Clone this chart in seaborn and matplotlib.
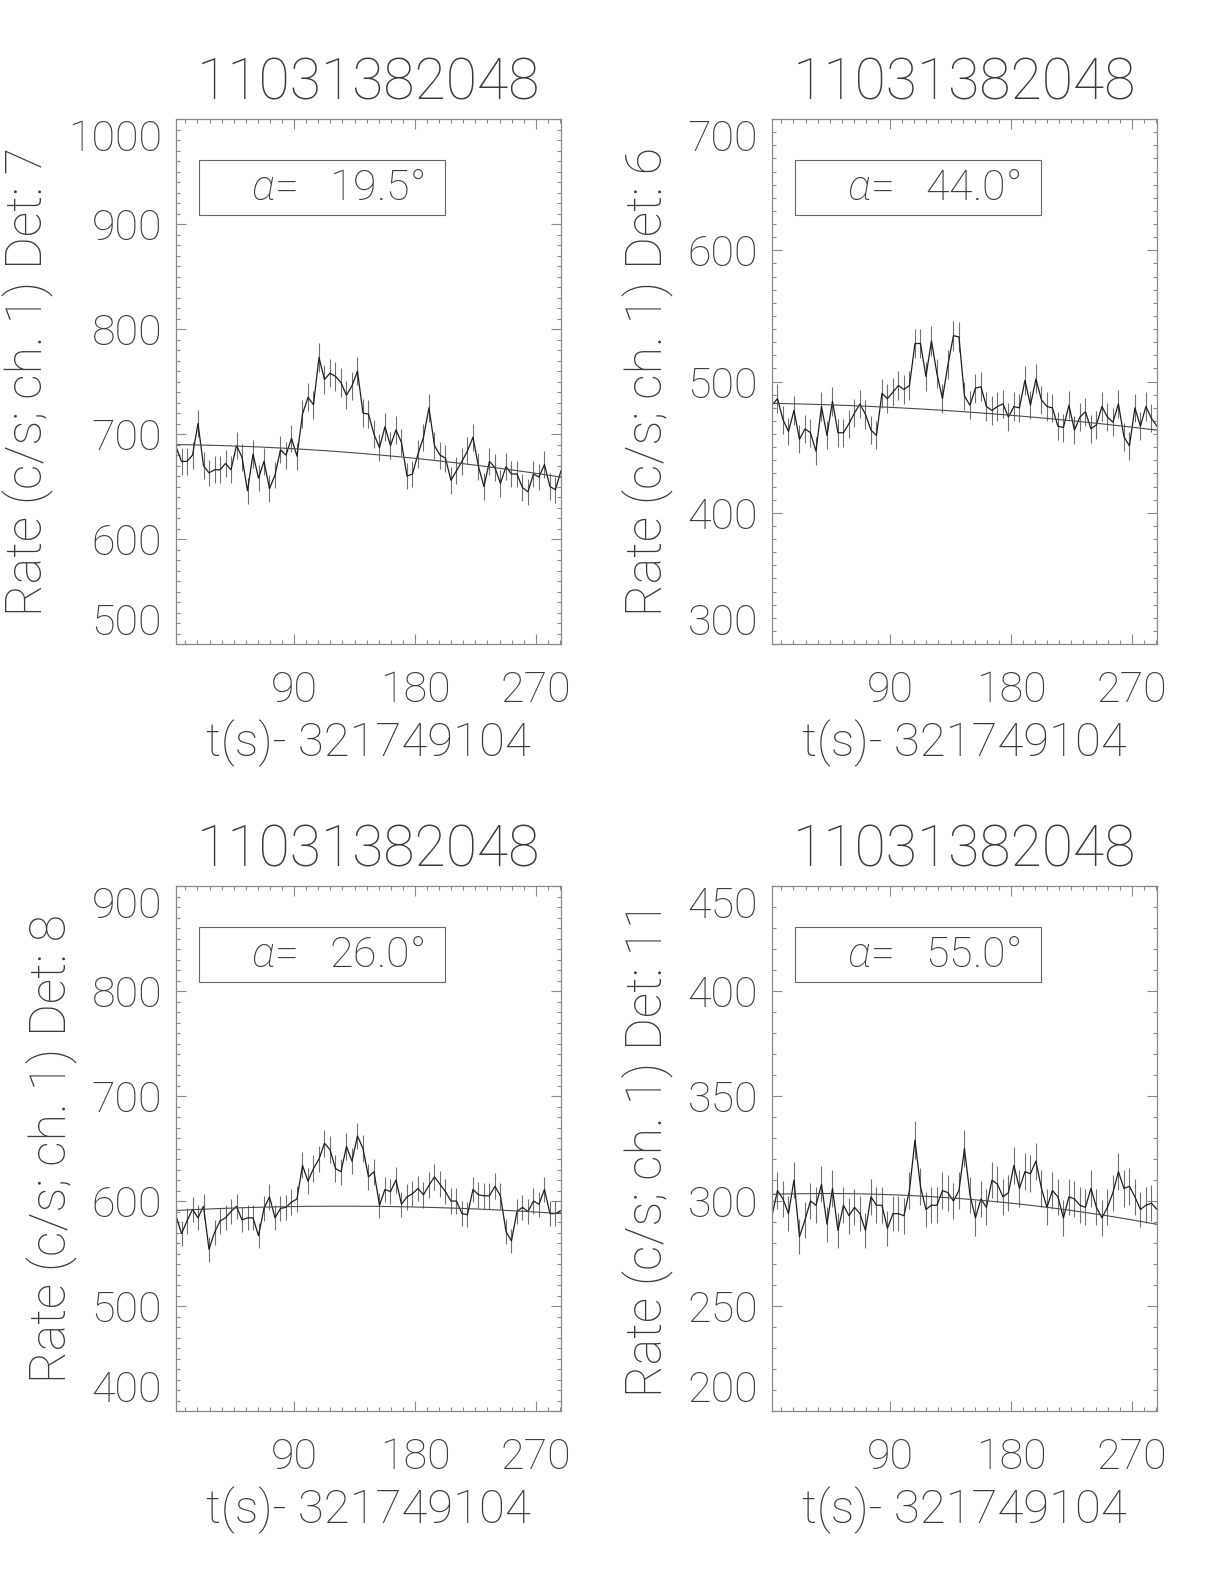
import numpy as np
import pandas as pd
import seaborn as sns
import matplotlib
matplotlib.use('Agg')
import matplotlib.pyplot as plt
from matplotlib.ticker import MultipleLocator
from matplotlib.patches import Rectangle

# time bins (s after 321749104)
T0 = 2.0
DT = 4.096
NBIN = 71

burst = '11031382048'
xtitle = 't(s)- 321749104'

# count rates
rate_det7 = [688, 674, 674, 680, 710, 670, 663, 666, 666, 672,
             666, 689, 678, 646, 681, 658, 674, 648, 661, 685,
             680, 696, 679, 719, 735, 728, 773, 752, 758, 755,
             749, 737, 746, 760, 720, 719, 700, 687, 707, 689,
             704, 692, 660, 662, 681, 697, 725, 689, 680, 677,
             656, 665, 674, 684, 697, 669, 650, 674, 668, 653,
             669, 662, 662, 649, 645, 662, 659, 671, 650, 647,
             665]
rate_det6 = [482, 487, 471, 462, 478, 456, 464, 461, 447, 481,
             459, 485, 461, 461, 468, 476, 483, 475, 463, 459,
             491, 487, 492, 497, 494, 497, 529, 529, 504, 531,
             506, 487, 513, 535, 534, 489, 482, 495, 496, 481,
             478, 481, 483, 473, 481, 480, 501, 482, 502, 486,
             481, 480, 466, 465, 482, 463, 473, 477, 464, 467,
             481, 473, 469, 483, 458, 451, 480, 466, 481, 472,
             466]
rate_det8 = [586, 569, 581, 592, 584, 595, 554, 570, 581, 584,
             590, 595, 582, 584, 584, 567, 593, 604, 584, 593,
             594, 599, 602, 634, 619, 631, 640, 655, 649, 631,
             628, 652, 638, 662, 650, 623, 628, 596, 611, 609,
             620, 597, 604, 607, 612, 606, 615, 623, 616, 609,
             600, 600, 588, 587, 611, 606, 605, 605, 614, 605,
             571, 562, 590, 594, 590, 600, 597, 611, 588, 588,
             591]
rate_det11 = [293, 305, 301, 294, 310, 283, 291, 300, 298, 308,
              289, 306, 286, 298, 293, 297, 294, 286, 302, 298,
              298, 287, 294, 294, 293, 305, 329, 307, 296, 298,
              298, 305, 304, 300, 305, 325, 303, 292, 301, 297,
              310, 308, 302, 304, 317, 306, 314, 313, 319, 306,
              297, 305, 302, 292, 302, 301, 298, 297, 306, 297,
              292, 297, 304, 314, 306, 307, 302, 296, 298, 299,
              296]

# quadratic background fit, coefficients in normalised time (-1..1)
bg_det7 = [681, -15.5, -6.5]
bg_det6 = [477, -10.2, -3.8]
bg_det8 = [595, -1.5, -5.5]
bg_det11 = [301, -7.15, -4.95]

detectors = [7, 6, 8, 11]
alphas = [19.5, 44.0, 26.0, 55.0]
ylims = [(500, 1000), (300, 700), (400, 900), (200, 450)]
ysteps = [100, 100, 100, 50]
rates = [rate_det7, rate_det6, rate_det8, rate_det11]
bgs = [bg_det7, bg_det6, bg_det8, bg_det11]

sns.set_theme(style='ticks')
plt.rcParams['font.family'] = ['Roboto', 'DejaVu Sans']
plt.rcParams['font.weight'] = 'light'
plt.rcParams['axes.titleweight'] = 'light'
plt.rcParams['axes.labelweight'] = 'light'
plt.rcParams['mathtext.fontset'] = 'custom'
plt.rcParams['mathtext.rm'] = 'Roboto:light'
plt.rcParams['mathtext.it'] = 'Roboto:italic:light'

txt = '#3a3a3a'
axcol = '#8a8a8a'

fig = plt.figure(figsize=(12.24, 15.84), dpi=100)
lefts = [0.1438, 0.6307, 0.1438, 0.6307]
bottoms = [0.5934, 0.5934, 0.1092, 0.1092]
W, H = 0.3145, 0.3314

t = T0 + DT * np.arange(NBIN)
s = (t - t.mean()) / (t[-1] - t.mean())

for i in range(4):
    ax = fig.add_axes([lefts[i], bottoms[i], W, H])
    r = np.array(rates[i], dtype=float)
    c = bgs[i]
    df = pd.DataFrame({'t': t, 'rate': r,
                       'err': np.sqrt(r / DT),
                       'bg': c[0] + c[1] * s + c[2] * s ** 2})

    ax.vlines(df['t'], df['rate'] - df['err'], df['rate'] + df['err'],
              color='#707070', lw=0.8)
    sns.lineplot(data=df, x='t', y='rate', ax=ax, color='#1e1e1e', lw=0.9,
                 estimator=None, sort=False)
    sns.lineplot(data=df, x='t', y='bg', ax=ax, color='#4a4a4a', lw=0.8,
                 estimator=None, sort=False)

    ax.set_xlim(t[0], t[-1])
    lo, hi = ylims[i]
    ax.set_ylim(lo, hi)
    ax.xaxis.set_major_locator(MultipleLocator(90))
    ax.xaxis.set_minor_locator(MultipleLocator(9))
    ax.set_yticks(np.arange(lo, hi + 1, ysteps[i]))
    ax.yaxis.set_minor_locator(MultipleLocator(10))

    for sp in ax.spines.values():
        sp.set_color(axcol)
        sp.set_linewidth(0.9)
    ax.tick_params(which='both', direction='in', top=True, right=True,
                   color=axcol, width=0.8, labelcolor=txt, labelsize=31)
    ax.tick_params(which='major', length=7.5)
    ax.tick_params(which='minor', length=3)
    ax.tick_params(axis='x', pad=19)
    ax.tick_params(axis='y', pad=10)

    ylabs = ax.get_yticklabels()
    ylabs[0].set_va('bottom')
    ylabs[-1].set_va('top')

    ax.set_title(burst, fontsize=41, color=txt, pad=14)
    ax.set_xlabel(xtitle, fontsize=34, color=txt, labelpad=6)
    ax.set_ylabel('Rate (c/s; ch. 1) Det: %d' % detectors[i],
                  fontsize=36, color=txt, labelpad=10)

    ax.add_patch(Rectangle((0.06, 0.817), 0.64, 0.106, transform=ax.transAxes,
                           fill=False, ec='#666666', lw=0.8))
    ax.text(0.645, 0.868, r'$\alpha$=   %.1f°' % alphas[i], transform=ax.transAxes,
            ha='right', va='center', fontsize=31, color=txt)

fig.savefig('out.png', dpi=100)
